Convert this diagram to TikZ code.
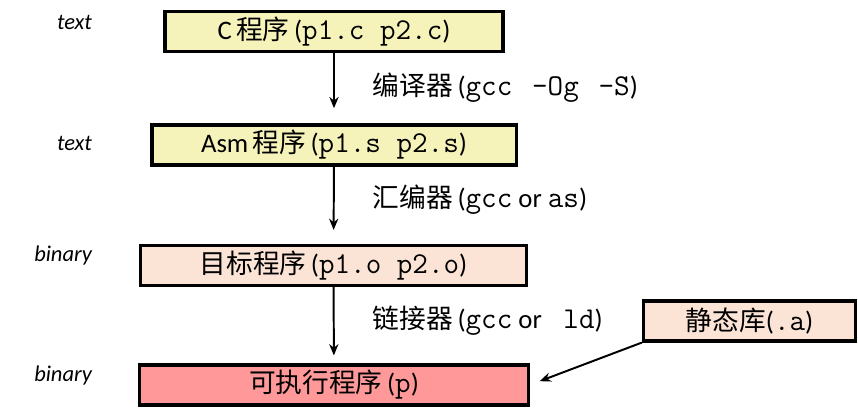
\documentclass[tikz,border=0pt]{standalone}
\usepackage{fontspec}
\setmainfont{Carlito}
\newfontfamily\cjk{Noto Sans CJK SC}
\usetikzlibrary{arrows.meta}

\definecolor{srcyellow}{RGB}{245,243,186}
\definecolor{objpeach}{RGB}{251,227,214}
\definecolor{exered}{RGB}{255,153,153}

\newcommand{\zh}[1]{{\cjk #1}}
\newcommand{\cd}[1]{{\ttfamily\fontsize{21.5}{22}\selectfont #1}}

\begin{document}
\begin{tikzpicture}[
            x=0.025cm, y=-0.025cm,
            box/.style={draw, line width=2.2pt, minimum height=1.0cm,
                        inner sep=0pt, font=\fontsize{19}{22}\selectfont},
            arr/.style={-{Stealth[length=8pt,width=6.5pt]}, line width=1.4pt},
            lab/.style={font=\fontsize{19}{22}\selectfont, anchor=west},
            kind/.style={font=\fontsize{16}{19}\selectfont\itshape, anchor=east}
        ]
        \useasboundingbox (0,0) rectangle (858,418);

        % Nodes
        \node[box, fill=srcyellow, minimum width=8.45cm] (csrc) at (334,31.5)
            {C\,\zh{程序}\,(\cd{p1.c p2.c})};
        \node[box, fill=srcyellow, minimum width=9.1cm] (asm) at (334,145)
            {Asm\,\zh{程序}\,(\cd{p1.s p2.s})};
        \node[box, fill=objpeach, minimum width=9.65cm] (obj) at (333.5,265.5)
            {\zh{目标程序}\,(\cd{p1.o p2.o})};
        \node[box, fill=exered, minimum width=9.7cm] (exe) at (334,385)
            {\zh{可执行程序}\,(\cd{p})};
        \node[box, fill=objpeach, minimum width=5.3cm] (lib) at (749.5,321)
            {\zh{静态库}(\cd{.a})};

        % Steps
        \draw[arr, shorten >=0.38cm] (csrc) -- (asm);
        \draw[arr, shorten >=0.35cm] (asm) -- (obj);
        \draw[arr, shorten >=0.2cm] (obj) -- (exe);
        \draw[arr, shorten >=0.27cm] (lib.south west) -- (exe.east);

        % Tool labels
        \node[lab] (cc) at (368,88)
            {\zh{编译器}\,(\cd{gcc\hspace{3pt} -Og\hspace{3pt} -S})};
        \node[lab] (as) at (368,200) {\zh{汇编器}\,(\cd{gcc} or \cd{as})};
        \node[lab] (ld) at (368,321) {\zh{链接器}\,(\cd{gcc} or \cd{\ ld})};

        % Side annotations
        \node[kind] (k1) at (97,22) {text};
        \node[kind] (k2) at (97,143) {text};
        \node[kind] (k3) at (97,256) {binary};
        \node[kind] (k4) at (97,376) {binary};

\end{tikzpicture}
\end{document}
